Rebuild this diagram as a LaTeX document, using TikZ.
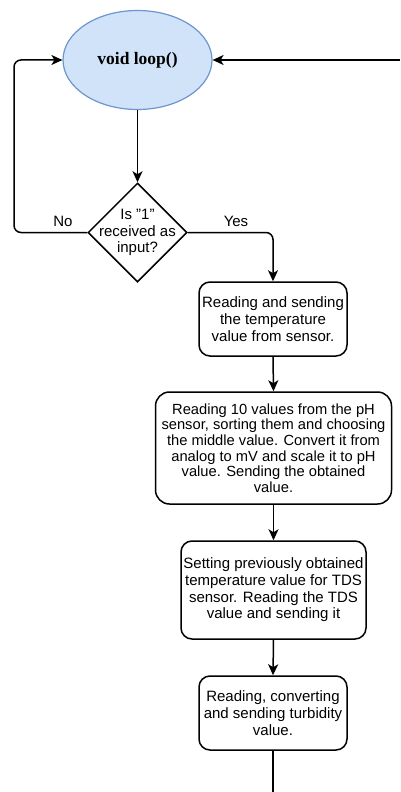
\documentclass[tikz,border=0pt]{standalone}
\usepackage{fontspec}
\setmainfont{Liberation Sans}
\newfontfamily\serifb{Liberation Serif}
\usetikzlibrary{shapes.geometric,arrows.meta}
\definecolor{startfill}{RGB}{208,227,248}
\definecolor{startdraw}{RGB}{108,150,205}
\tikzset{
  every node/.style={font=\fontsize{15}{16.7}\selectfont},
  conn/.style={line width=1.5pt, draw=black, rounded corners=7pt},
  arr/.style={conn, -{Stealth[length=11pt,width=10pt,inset=3pt]}},
  stepbox/.style={draw=black, line width=1.5pt, rounded corners=11pt, align=center, inner sep=0pt},
  decision/.style={draw=black, line width=1.5pt, diamond, inner sep=0pt, minimum width=99pt, minimum height=99pt},
  startnode/.style={ellipse, draw=startdraw, fill=startfill, line width=1.2pt, minimum width=149pt, minimum height=99pt, inner sep=0pt},
  lbl/.style={inner sep=0pt}
}
\begin{document}
\begin{tikzpicture}[x=1pt,y=-1pt]
\useasboundingbox (0,0) rectangle (400,792);
\node[startnode] (start) at (137.5,60) {\serifb\bfseries\fontsize{17.5}{20}\selectfont void loop()};
\node[decision] (dec) at (137.5,232.5) {};
\node[lbl, align=center] (dect) at (dec.center) {Is \symbol{34}1\symbol{34}\\received as\\input?};
\node[stepbox, minimum width=148pt, minimum height=74pt] (b1) at (273,319) {Reading and sending\\the temperature\\value from sensor.};
\node[stepbox, minimum width=236pt, minimum height=112pt, rounded corners=14pt, font=\fontsize{14.7}{15.6}\selectfont] (b2) at (273.5,448) {Reading 10 values from the pH\\sensor, sorting them and choosing\\the middle value. Convert it from\\analog to mV and scale it to pH\\value. Sending the obtained\\value.};
\node[stepbox, minimum width=185pt, minimum height=98pt] (b3) at (273.5,590) {Setting previously obtained\\temperature value for TDS\\sensor. Reading the TDS\\value and sending it};
\node[stepbox, minimum width=148pt, minimum height=74pt] (b4) at (273,713) {Reading, converting\\and sending turbidity\\value.};
\coordinate (rin) at (400,60);
\coordinate (bout) at (273,792);
\node[lbl] (no) at (63,221) {No};
\node[lbl] (yes) at (236,221) {Yes};
\draw[arr] (start.south) -- (dec.north);
\draw[arr] (dec.west) -- (14,232.5) -- (14,60) -- (start.west);
\draw[arr] (dec.east) -| (b1.north);
\draw[arr] (rin) -- (start.east);
\draw[arr] (b1.south) -- (b2.north);
\draw[arr] (b2.south) -- (b3.north);
\draw[arr] (b3.south) -- (b4.north);
\draw[conn] (b4.south) -- (bout);
\end{tikzpicture}
\end{document}
